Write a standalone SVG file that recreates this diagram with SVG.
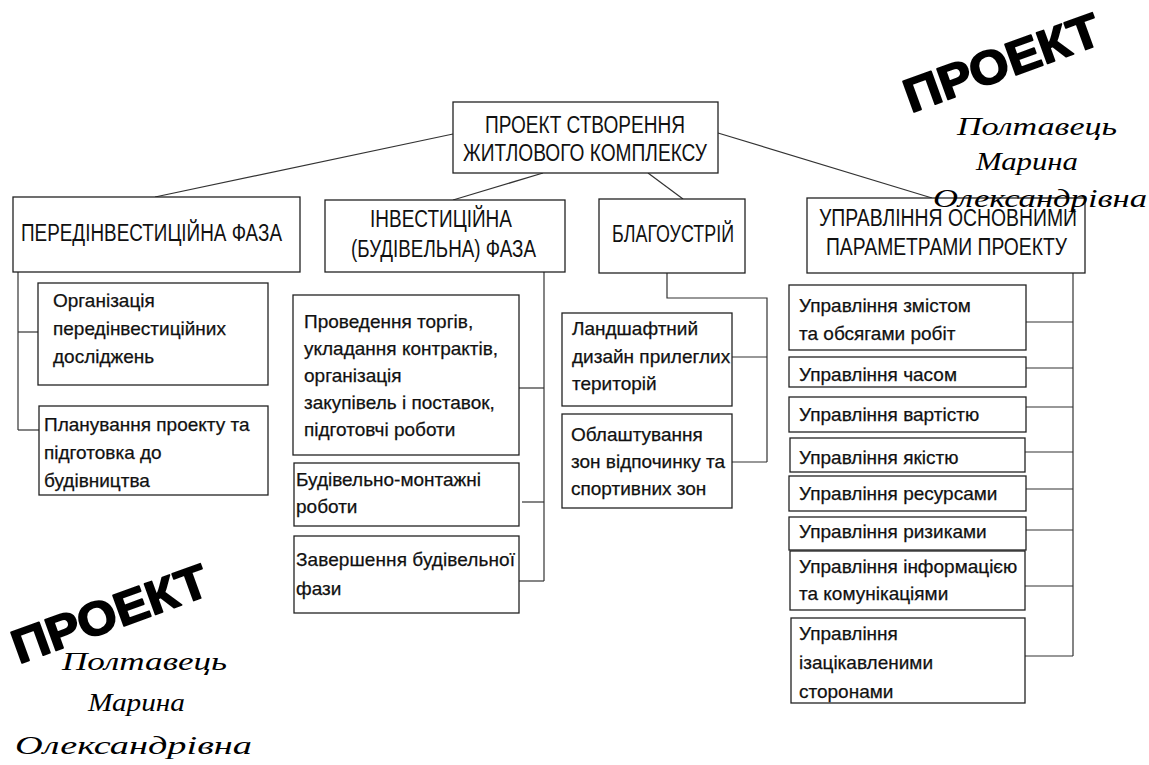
<svg xmlns="http://www.w3.org/2000/svg" width="1149" height="765" viewBox="0 0 1149 765">
  <style>
    .box { fill: #ffffff; stroke: #222222; stroke-width: 1.3; }
    .conn line, .conn polyline { stroke: #333333; stroke-width: 1.2; fill: none; }
    .head { font-family: "Liberation Sans", Arial, sans-serif; font-size: 23px; fill: #111111; }
    .body { font-family: "Liberation Sans", Arial, sans-serif; font-size: 19px; fill: #111111; stroke: #111111; stroke-width: 0.25; }
    .stamp { font-family: "Liberation Sans", Arial, sans-serif; font-size: 47px; font-weight: bold; fill: #000000; stroke: #000000; stroke-width: 1.8; stroke-linejoin: round; }
    .sign { font-family: "Liberation Serif", "Times New Roman", serif; font-style: italic; font-size: 26px; fill: #000000; }
  </style>

  <rect width="1149" height="765" fill="#ffffff"/>

  <!-- connectors -->
  <g id="connectors" class="conn">
    <line x1="453" y1="134" x2="155" y2="197"/>
    <line x1="543" y1="173" x2="453" y2="200"/>
    <line x1="648" y1="173" x2="683" y2="199"/>
    <line x1="718" y1="133" x2="932" y2="198"/>

    <!-- pre-investment branch -->
    <line x1="18" y1="272" x2="18" y2="430"/>
    <line x1="18" y1="332" x2="38" y2="332"/>
    <line x1="18" y1="430" x2="42" y2="430"/>

    <!-- investment branch -->
    <line x1="544" y1="272" x2="544" y2="581"/>
    <line x1="519" y1="388" x2="544" y2="388"/>
    <line x1="522" y1="502" x2="544" y2="502"/>
    <line x1="519" y1="581" x2="544" y2="581"/>

    <!-- landscaping branch -->
    <polyline points="667,273 667,298 767,298 767,462"/>
    <line x1="732" y1="357" x2="767" y2="357"/>
    <line x1="732" y1="462" x2="767" y2="462"/>

    <!-- management branch -->
    <line x1="1073" y1="273" x2="1073" y2="656"/>
    <line x1="1026" y1="322" x2="1073" y2="322"/>
    <line x1="1026" y1="368" x2="1073" y2="368"/>
    <line x1="1026" y1="407" x2="1073" y2="407"/>
    <line x1="1025" y1="452" x2="1073" y2="452"/>
    <line x1="1026" y1="489" x2="1073" y2="489"/>
    <line x1="1026" y1="530" x2="1073" y2="530"/>
    <line x1="1025" y1="586" x2="1073" y2="586"/>
    <line x1="1025" y1="656" x2="1073" y2="656"/>
  </g>

  <!-- root -->
  <g id="root">
    <rect class="box" x="453" y="102" width="265" height="71"/>
    <text class="head" x="485" y="133" textLength="200" lengthAdjust="spacingAndGlyphs">ПРОЕКТ СТВОРЕННЯ</text>
    <text class="head" x="463" y="161" textLength="244" lengthAdjust="spacingAndGlyphs">ЖИТЛОВОГО КОМПЛЕКСУ</text>
  </g>

  <!-- phases -->
  <g id="phase-pre">
    <rect class="box" x="13" y="197" width="287" height="75"/>
    <text class="head" x="21" y="241" textLength="261" lengthAdjust="spacingAndGlyphs">ПЕРЕДІНВЕСТИЦІЙНА ФАЗА</text>
  </g>
  <g id="phase-invest">
    <rect class="box" x="325" y="200" width="240" height="72"/>
    <text class="head" x="370" y="227" textLength="142" lengthAdjust="spacingAndGlyphs">ІНВЕСТИЦІЙНА</text>
    <text class="head" x="351" y="257" textLength="185" lengthAdjust="spacingAndGlyphs">(БУДІВЕЛЬНА) ФАЗА</text>
  </g>
  <g id="phase-landscape">
    <rect class="box" x="599" y="199" width="146" height="74"/>
    <text class="head" x="612" y="242" textLength="122" lengthAdjust="spacingAndGlyphs">БЛАГОУСТРІЙ</text>
  </g>
  <g id="phase-manage">
    <rect class="box" x="807" y="198" width="278" height="75"/>
    <text class="head" x="819" y="226" textLength="258" lengthAdjust="spacingAndGlyphs">УПРАВЛІННЯ ОСНОВНИМИ</text>
    <text class="head" x="826" y="255" textLength="241" lengthAdjust="spacingAndGlyphs">ПАРАМЕТРАМИ ПРОЕКТУ</text>
  </g>

  <!-- pre-investment tasks -->
  <g id="pre-research">
    <rect class="box" x="38" y="283" width="230" height="102"/>
    <text class="body" x="53" y="307">Організація</text>
    <text class="body" x="53" y="335">передінвестиційних</text>
    <text class="body" x="53" y="363">досліджень</text>
  </g>
  <g id="pre-planning">
    <rect class="box" x="39" y="406" width="229" height="89"/>
    <text class="body" x="44" y="431">Планування проекту та</text>
    <text class="body" x="44" y="459">підготовка до</text>
    <text class="body" x="44" y="487">будівництва</text>
  </g>

  <!-- investment tasks -->
  <g id="inv-tenders">
    <rect class="box" x="293" y="295" width="226" height="160"/>
    <text class="body" x="304" y="328">Проведення торгів,</text>
    <text class="body" x="304" y="355">укладання контрактів,</text>
    <text class="body" x="304" y="382">організація</text>
    <text class="body" x="304" y="409">закупівель і поставок,</text>
    <text class="body" x="304" y="436">підготовчі роботи</text>
  </g>
  <g id="inv-construction">
    <rect class="box" x="294" y="463" width="225" height="63"/>
    <text class="body" x="296" y="486">Будівельно-монтажні</text>
    <text class="body" x="296" y="513">роботи</text>
  </g>
  <g id="inv-completion">
    <rect class="box" x="294" y="536" width="225" height="77"/>
    <text class="body" x="296" y="566" textLength="219" lengthAdjust="spacing">Завершення будівельної</text>
    <text class="body" x="296" y="595">фази</text>
  </g>

  <!-- landscaping tasks -->
  <g id="land-design">
    <rect class="box" x="562" y="313" width="170" height="93"/>
    <text class="body" x="572" y="335">Ландшафтний</text>
    <text class="body" x="572" y="363">дизайн прилеглих</text>
    <text class="body" x="572" y="390">територій</text>
  </g>
  <g id="land-zones">
    <rect class="box" x="562" y="414" width="170" height="94"/>
    <text class="body" x="571" y="441">Облаштування</text>
    <text class="body" x="571" y="468">зон відпочинку та</text>
    <text class="body" x="571" y="495">спортивних зон</text>
  </g>

  <!-- management areas -->
  <g id="mgmt-scope">
    <rect class="box" x="789" y="285" width="237" height="65"/>
    <text class="body" x="799" y="312">Управління змістом</text>
    <text class="body" x="799" y="340">та обсягами робіт</text>
  </g>
  <g id="mgmt-time">
    <rect class="box" x="789" y="357" width="237" height="30"/>
    <text class="body" x="799" y="381">Управління часом</text>
  </g>
  <g id="mgmt-cost">
    <rect class="box" x="789" y="397" width="237" height="35"/>
    <text class="body" x="799" y="421">Управління вартістю</text>
  </g>
  <g id="mgmt-quality">
    <rect class="box" x="790" y="438" width="235" height="34"/>
    <text class="body" x="799" y="464">Управління якістю</text>
  </g>
  <g id="mgmt-resources">
    <rect class="box" x="789" y="476" width="237" height="35"/>
    <text class="body" x="799" y="500">Управління ресурсами</text>
  </g>
  <g id="mgmt-risks">
    <rect class="box" x="789" y="517" width="237" height="33"/>
    <text class="body" x="799" y="538">Управління ризиками</text>
  </g>
  <g id="mgmt-comms">
    <rect class="box" x="790" y="551" width="235" height="59"/>
    <text class="body" x="799" y="573">Управління інформацією</text>
    <text class="body" x="799" y="600">та комунікаціями</text>
  </g>
  <g id="mgmt-stakeholders">
    <rect class="box" x="791" y="618" width="234" height="85"/>
    <text class="body" x="799" y="640">Управління</text>
    <text class="body" x="799" y="669">ізацікавленими</text>
    <text class="body" x="799" y="698">сторонами</text>
  </g>

  <!-- author stamps -->
  <g id="stamp-top">
    <text class="stamp" transform="translate(911,113) rotate(-20)" textLength="205" lengthAdjust="spacingAndGlyphs">ПРОЕКТ</text>
    <text class="sign" x="957" y="135" textLength="160" lengthAdjust="spacingAndGlyphs">Полтавець</text>
    <text class="sign" x="976" y="170" textLength="102" lengthAdjust="spacingAndGlyphs">Марина</text>
    <text class="sign" x="933" y="207" textLength="214" lengthAdjust="spacingAndGlyphs">Олександрівна</text>
  </g>
  <g id="stamp-bottom">
    <text class="stamp" transform="translate(19,664) rotate(-20)" textLength="205" lengthAdjust="spacingAndGlyphs">ПРОЕКТ</text>
    <text class="sign" x="62" y="670" textLength="165" lengthAdjust="spacingAndGlyphs">Полтавець</text>
    <text class="sign" x="88" y="711" textLength="97" lengthAdjust="spacingAndGlyphs">Марина</text>
    <text class="sign" x="15" y="754" textLength="237" lengthAdjust="spacingAndGlyphs">Олександрівна</text>
  </g>
</svg>
